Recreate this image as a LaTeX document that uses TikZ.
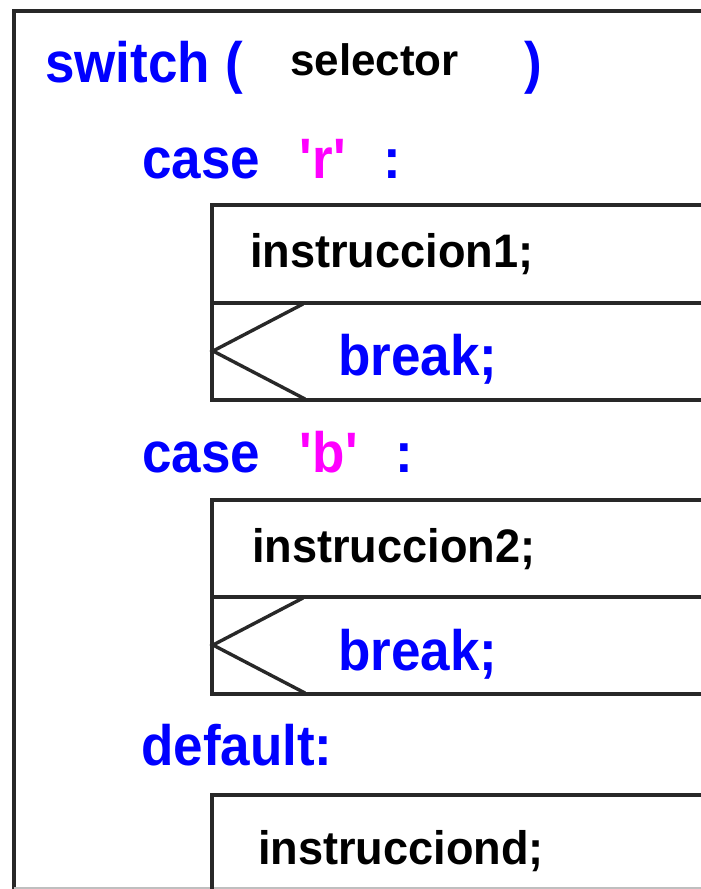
\documentclass[tikz,border=0pt]{standalone}
\usepackage{fontspec}
\setmainfont{Liberation Sans}
% keyword face: bold, slightly condensed
\newfontfamily\kwfont{Liberation Sans Bold}[FakeStretch=0.93]
% statement face
\newfontfamily\stfont{Liberation Sans Bold}[FakeStretch=0.96]
\newfontfamily\selfont{Liberation Sans Bold}

\definecolor{kwblue}{RGB}{0,0,255}
\definecolor{litmag}{RGB}{255,0,255}
\definecolor{linegray}{RGB}{40,40,40}

\tikzset{
  kw/.style={inner sep=0pt, anchor=base west, text=kwblue,
             font=\kwfont\fontsize{57}{57}\selectfont},
  lit/.style={kw, text=litmag},
  stmt/.style={inner sep=0pt, anchor=base west, text=black,
               font=\stfont\fontsize{47}{47}\selectfont},
  seltext/.style={inner sep=0pt, anchor=base west, text=black,
               font=\selfont\fontsize{44}{44}\selectfont},
  frameline/.style={line width=4pt, draw=linegray},
  boxline/.style={line width=3.6pt, draw=linegray},
  chev/.style={line width=3.4pt, draw=linegray},
}

\begin{document}
\begin{tikzpicture}[x=1pt,y=-1pt]
  \useasboundingbox (0,0) rectangle (701,889);
  \clip (0,0) rectangle (701,889);
  \fill[white] (0,0) rectangle (701,889);

  % outer frame of the switch block
  \draw[frameline] (14,900) -- (14,11) -- (720,11);
  \draw[black!25, line width=1.5pt] (14,888) -- (720,888);

  % header
  \node[kw] (sw) at (45,82) {switch};
  \node[kw] (lp) at (225,82) {(};
  \node[seltext] (sel) at (290,75) {selector};
  \node[kw] (rp) at (524,82) {)};

  % case 'r'
  \node[kw] (c1) at (142,178) {case};
  \node[lit] (v1) at (299,178) {\textquotesingle r\textquotesingle};
  \node[kw] (k1) at (383,178) {:};

  \draw[boxline] (212,205) rectangle (720,400);
  \draw[boxline] (212,303) -- (720,303);
  \draw[chev] (303,304) -- (213,351) -- (305,399);
  \node[stmt] (s1) at (250,267) {instruccion1;};
  \node[kw] (b1) at (338,375) {break;};

  % case 'b'
  \node[kw] (c2) at (142,472) {case};
  \node[lit] (v2) at (299,472) {\textquotesingle b\textquotesingle};
  \node[kw] (k2) at (395,472) {:};

  \draw[boxline] (212,500) rectangle (720,694);
  \draw[boxline] (212,597) -- (720,597);
  \draw[chev] (303,598) -- (213,645) -- (305,693);
  \node[stmt] (s2) at (252,562) {instruccion2;};
  \node[kw] (b2) at (338,670) {break;};

  % default
  \node[kw] (df) at (141,765) {default:};
  \draw[boxline] (212,900) -- (212,795) -- (720,795);
  \node[stmt] (sd) at (258,864) {instrucciond;};
\end{tikzpicture}
\end{document}
